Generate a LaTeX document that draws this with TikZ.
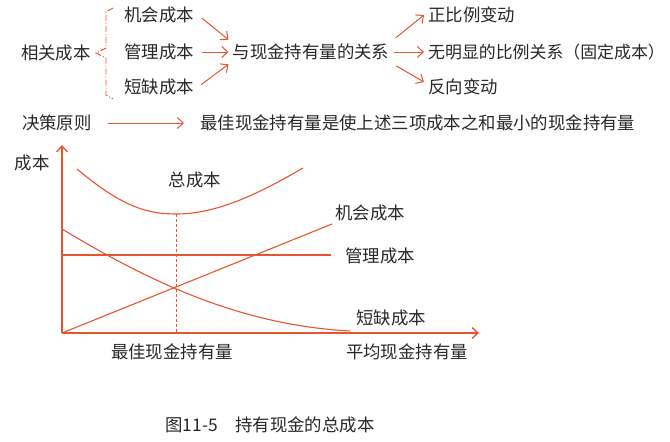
\documentclass[tikz,border=0pt]{standalone}
\usepackage{fontspec}
\setmainfont{Noto Sans CJK SC}
\usetikzlibrary{positioning,arrows.meta}
\usepackage{xcolor}
\definecolor{hong}{RGB}{232,84,48}
\definecolor{zi}{RGB}{40,40,40}

\begin{document}
\begin{tikzpicture}[x=1pt,y=-1pt,
  every node/.style={text=zi,font=\fontsize{17.4}{19}\selectfont,inner sep=4pt},
  jiantou/.style={hong,line width=1pt,-{Straight Barb[length=6pt,width=11pt]}},
  xian/.style={hong,line width=1.1pt}]

\useasboundingbox (0,0) rectangle (670,442);

\node (xg) at (56,53) {相关成本};
\node (jh) at (159,15) {机会成本};
\node (gl) at (159,52) {管理成本};
\node (dq) at (159,87) {短缺成本};
\node (gx) at (311,52) {与现金持有量的关系};
\node[anchor=west] (zb) at (424,15) {正比例变动};
\node[anchor=west,inner sep=0pt,font=\fontsize{16.9}{19}\selectfont] (wm) at (428,52) {无明显的比例关系（固定成本）};
\node[anchor=west] (fx) at (424,87) {反向变动};
\node (jc) at (57,123) {决策原则};
\node[anchor=west] (zj) at (196,123) {最佳现金持有量是使上述三项成本之和最小的现金持有量};

\draw[hong,line width=0.9pt,dash pattern=on 6pt off 2pt on 1pt off 2pt] (113,8) -- (106,12) -- (106,48) -- (96,53) -- (106,58) -- (106,95) -- (113,99);

\draw[jiantou,shorten <=5pt] (jh.east) -- (gx.north west);
\draw[jiantou,shorten <=4pt] (gl.east) -- (gx.west);
\draw[jiantou,shorten <=4pt] (dq.east) -- (gx.south west);
\draw[jiantou,shorten <=3pt] (gx.north east) -- (zb.west);
\draw[jiantou,shorten >=4pt] (gx.east) -- (wm.west);
\draw[jiantou,shorten <=3pt] (gx.south east) -- ([yshift=5pt]fx.west);
\draw[jiantou,shorten <=12pt,shorten >=12pt] (jc.east) -- (zj.west);

\coordinate (O) at (62,333);
\coordinate (ymax) at (62,145);
\coordinate (xmax) at (479,333);
\coordinate (zd) at (176,214);
\coordinate (jd) at (176,288);

\draw[jiantou,line width=1.3pt] (O) -- (ymax);
\draw[jiantou,line width=1.3pt] (O) -- (xmax);

\draw[xian] (77,169) .. controls (120,205) and (145,214) .. (zd) .. controls (215,214) and (255,196) .. (303,168);
\draw[xian,line width=0.9pt,dash pattern=on 3pt off 2pt] (zd) -- (176,333);
\draw[xian] (O) -- (332,224);
\draw[xian] (62,255) -- (331,255);
\draw[xian] (62,229) .. controls (150,282) and (240,325) .. (350,331);

\node (cb) at (32,163) {成本};
\node (zcb) at (195,180) {总成本};
\node (jhcb) at (370,213) {机会成本};
\node (glcb) at (380,256) {管理成本};
\node (dqcb) at (391,318) {短缺成本};
\node (zjl) at (172,352) {最佳现金持有量};
\node (pjl) at (407,352) {平均现金持有量};

\node (tu) at (270,425) {图11-5\quad 持有现金的总成本};

\end{tikzpicture}
\end{document}
